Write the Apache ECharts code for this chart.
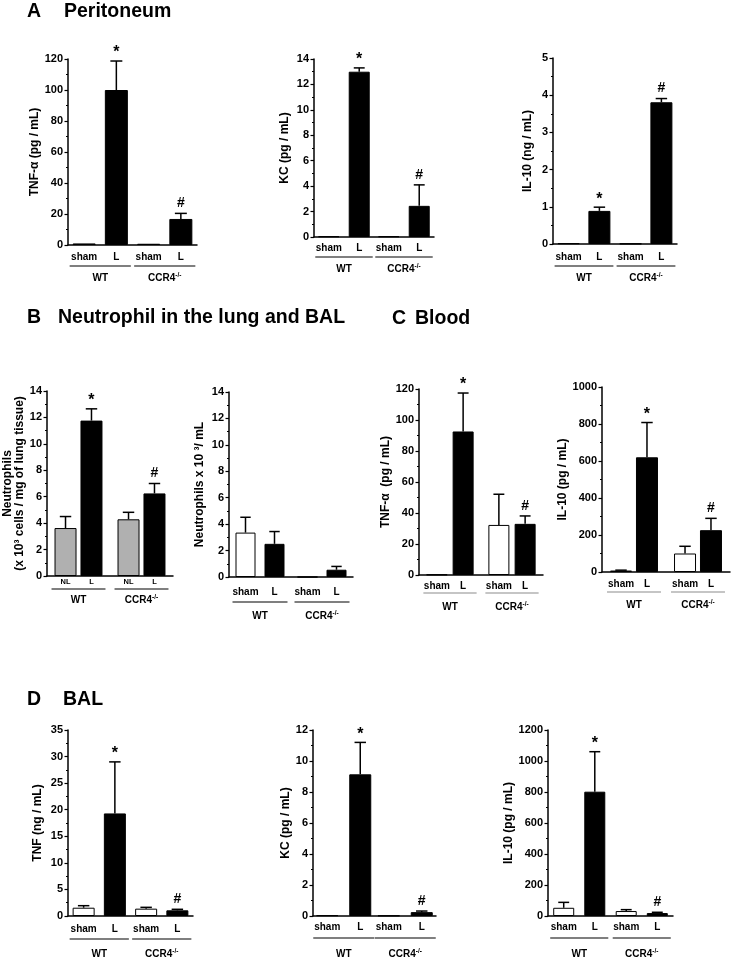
<!DOCTYPE html>
<html><head><meta charset="utf-8">
<script src="https://cdn.jsdelivr.net/npm/echarts@6/dist/echarts.min.js"></script>
<style>html,body{margin:0;padding:0;background:#fff}#c{width:732px;height:959px}</style>
</head><body><div id="c"></div>
<script>
// ---------- data ----------
const groups = ['WT', 'CCR4'];
// order in every array: [first bar WT, L WT, first bar CCR4-/-, L CCR4-/-]
const periTnfMean  = [1.0, 100.0, 0.8, 16.8];
const periTnfErr   = [1.0, 118.7, 0.8, 20.4];
const periKcMean   = [0.05, 13.0, 0.05, 2.45];
const periKcErr    = [0.05, 13.3, 0.05, 4.1];
const periIl10Mean = [0.02, 0.89, 0.01, 3.81];
const periIl10Err  = [0.02, 0.99, 0.01, 3.91];
const lungNeuMean  = [3.63, 11.76, 4.29, 6.25];
const lungNeuErr   = [4.5, 12.65, 4.82, 7.0];
const balNeuMean   = [3.36, 2.51, 0, 0.55];
const balNeuErr    = [4.52, 3.44, 0, 0.8];
const bloodTnfMean = [0.3, 92.6, 32.3, 33.0];
const bloodTnfErr  = [0.3, 117.4, 52.1, 38.1];
const bloodIl10Mean= [8, 620, 100, 226];
const bloodIl10Err = [10, 808, 139, 290];
const balTnfMean   = [1.56, 19.3, 1.38, 1.07];
const balTnfErr    = [1.94, 29.0, 1.63, 1.26];
const balKcMean    = [0.05, 9.14, 0.03, 0.25];
const balKcErr     = [0.05, 11.2, 0.03, 0.32];
const balIl10Mean  = [53, 802, 32, 19];
const balIl10Err   = [88, 1060, 41, 24];
const sigMarks     = ['', '*', '', '#'];
const noMarks      = ['', '', '', ''];
const shamL = ['sham', 'L'];
const nlL   = ['NL', 'L'];
const yMax  = [120, 14, 5, 14, 14, 120, 1000, 35, 12, 1200];
const yStep = [20, 2, 1, 2, 2, 20, 200, 5, 2, 200];
const yNames = ['TNF-α (pg / mL)', 'KC (pg / mL)', 'IL-10 (ng / mL)',
  'Neutrophils\n(x 10³ cells / mg of lung tissue)', 'Neutrophils x 10 ³/ mL',
  'TNF-α  (pg / mL)', 'IL-10 (pg / mL)', 'TNF (ng / mL)', 'KC (pg / mL)', 'IL-10 (pg / mL)'];
const panelLetters = ['A', 'B', 'C', 'D'];
const panelTitles = ['Peritoneum', 'Neutrophil in the lung and BAL', 'Blood', 'BAL'];

const charts = [
  {mean: periTnfMean, err: periTnfErr, marks: sigMarks, pair: shamL},
  {mean: periKcMean, err: periKcErr, marks: sigMarks, pair: shamL},
  {mean: periIl10Mean, err: periIl10Err, marks: sigMarks, pair: shamL},
  {mean: lungNeuMean, err: lungNeuErr, marks: sigMarks, pair: nlL},
  {mean: balNeuMean, err: balNeuErr, marks: noMarks, pair: shamL},
  {mean: bloodTnfMean, err: bloodTnfErr, marks: sigMarks, pair: shamL},
  {mean: bloodIl10Mean, err: bloodIl10Err, marks: sigMarks, pair: shamL},
  {mean: balTnfMean, err: balTnfErr, marks: sigMarks, pair: shamL},
  {mean: balKcMean, err: balKcErr, marks: sigMarks, pair: shamL},
  {mean: balIl10Mean, err: balIl10Err, marks: sigMarks, pair: shamL}
];

// ---------- layout / style ----------
const FONT = '"Liberation Sans", Arial, Helvetica, sans-serif';
const W = '#ffffff', K = '#000000', G = '#b0b0b0';
const layout = [
  {l:68,  t:59,  w:129, h:186, bw:23, gap:0.40, ng:26, pd:7,   lo:21, gm:27, fill:[K,K], lc:K, pf:10},
  {l:314, t:59,  w:120, h:178, bw:21, gap:0.45, ng:23, pd:6,   lo:20, gm:26, fill:[K,K], lc:K, pf:10},
  {l:553, t:58,  w:124, h:186, bw:22, gap:0.40, ng:19, pd:8,   lo:22, gm:28, fill:[K,K], lc:K, pf:10},
  {l:47,  t:391, w:126, h:185, bw:22, gap:0.18, ng:16, pd:1.5, lo:13, gm:18, fill:[G,K], lc:K, pf:7.5},
  {l:229, t:392, w:124, h:185, bw:20, gap:0.45, ng:23, pd:10,  lo:25, gm:33, fill:[W,K], lc:K, pf:10},
  {l:419, t:389, w:124, h:186, bw:21, gap:0.25, ng:26, pd:6,   lo:18, gm:26, fill:[W,K], lc:'#8c8c8c', pf:10},
  {l:602, t:387, w:128, h:185, bw:22, gap:0.18, ng:29, pd:7,   lo:20, gm:27, fill:[W,K], lc:'#8c8c8c', pf:10},
  {l:68,  t:730, w:125, h:186, bw:22, gap:0.42, ng:24, pd:8,   lo:23, gm:32, fill:[W,K], lc:K, pf:10},
  {l:313, t:730, w:123, h:186, bw:22, gap:0.50, ng:20, pd:6,   lo:22, gm:32, fill:[W,K], lc:K, pf:10},
  {l:548, t:730, w:125, h:186, bw:21, gap:0.48, ng:30, pd:6,   lo:22, gm:32, fill:[W,K], lc:K, pf:10}
];
const titlePos = [
  {lx:27, tx:64, top:2}, {lx:27, tx:58, top:308}, {lx:392, tx:415, top:309}, {lx:27, tx:63, top:690}
];

const option = {
  animation: false,
  backgroundColor: '#fff',
  textStyle: {fontFamily: FONT},
  title: [], grid: [], xAxis: [], yAxis: [], series: []
};

panelLetters.forEach((L, i) => {
  const p = titlePos[i];
  const ts = {fontSize: 19.5, fontWeight: 'bold', color: '#000', fontFamily: FONT};
  option.title.push({text: L, left: p.lx, top: p.top, padding: 0, textStyle: ts});
  option.title.push({text: panelTitles[i], left: p.tx, top: p.top, padding: 0, textStyle: ts});
});

charts.forEach((c, i) => {
  const s = layout[i];
  option.grid.push({left: s.l, top: s.t, width: s.w, height: s.h, containLabel: false, outerBoundsMode: 'none'});
  option.xAxis.push({
    type: 'category', gridIndex: i, data: groups,
    axisTick: {show: false},
    axisLine: {show: true, lineStyle: {color: '#000', width: 1.5}},
    axisLabel: {
      margin: s.gm, interval: 0,
      formatter: v => v === 'CCR4' ? '{a|CCR4}{s|-/-}' : '{a|' + v + '}',
      rich: {
        a: {fontSize: 10, fontWeight: 'bold', color: '#000', fontFamily: FONT, lineHeight: 12},
        s: {fontSize: 6.5, fontWeight: 'bold', color: '#000', fontFamily: FONT, lineHeight: 7, verticalAlign: 'top'}
      }
    }
  });
  option.yAxis.push({
    type: 'value', gridIndex: i, min: 0, max: yMax[i], interval: yStep[i],
    name: yNames[i], nameLocation: 'middle', nameGap: s.ng,
    nameTextStyle: {fontSize: 12, fontWeight: 'bold', color: '#000', fontFamily: FONT, lineHeight: 12},
    axisLine: {show: true, lineStyle: {color: '#000', width: 1.5}},
    axisTick: {show: true, length: 3.5, lineStyle: {color: '#000', width: 1.2}},
    minorTick: {show: true, splitNumber: 2, length: 2, lineStyle: {color: '#000', width: 1}},
    splitLine: {show: false},
    axisLabel: {margin: 5, fontSize: 11, fontWeight: 'bold', color: '#000', fontFamily: FONT,
      formatter: v => String(v)}
  });
  for (let k = 0; k < 2; k++) {
    const name = c.pair[k];
    option.series.push({
      type: 'bar', name: name, xAxisIndex: i, yAxisIndex: i,
      data: [c.mean[k], c.mean[2 + k]],
      barWidth: s.bw, barGap: Math.round(s.gap * 100) + '%',
      itemStyle: {color: s.fill[k], borderColor: '#000', borderWidth: 1},
      label: {show: true, position: 'bottom', distance: s.pd, formatter: () => name,
        fontSize: s.pf, fontWeight: 'bold', color: '#000', fontFamily: FONT},
      silent: true, z: 2
    });
  }
  // error bars + significance marks
  const errData = [];
  for (let g = 0; g < 2; g++) for (let k = 0; k < 2; k++) {
    const j = g * 2 + k;
    errData.push([g, k, c.mean[j], c.err[j]]);
  }
  const marks = c.marks;
  option.series.push({
    type: 'custom', xAxisIndex: i, yAxisIndex: i, data: errData,
    encode: {x: 0, y: 3}, silent: true, z: 5, clip: false,
    renderItem: (params, api) => {
      const g = api.value(0), k = api.value(1), m = api.value(2), t = api.value(3);
      const p0 = api.coord([g, m]);
      const p1 = api.coord([g, t]);
      const off = (s.bw + s.bw * s.gap) / 2 * (k === 0 ? -1 : 1);
      const x = p0[0] + off;
      const cw = s.bw * 0.26;
      const ch = [];
      if (t > m) {
        ch.push({type: 'line', shape: {x1: x, y1: p0[1], x2: x, y2: p1[1]}, style: {stroke: '#000', lineWidth: 1.5}});
        ch.push({type: 'line', shape: {x1: x - cw, y1: p1[1], x2: x + cw, y2: p1[1]}, style: {stroke: '#000', lineWidth: 1.5}});
      }
      const mk = marks[params.dataIndex];
      if (mk) {
        const star = mk === '*';
        ch.push({type: 'text', x: x, y: p1[1] - (star ? 0 : 3),
          style: {text: mk, fill: '#000', font: 'bold ' + (star ? 16 : 14) + 'px ' + FONT, align: 'center', verticalAlign: 'bottom'}});
      }
      return {type: 'group', children: ch};
    }
  });
  // group underline
  option.series.push({
    type: 'custom', xAxisIndex: i, yAxisIndex: i, data: [[0, 0], [1, 0]],
    encode: {x: 0, y: 1}, silent: true, z: 5, clip: false,
    renderItem: (params, api) => {
      const p = api.coord([api.value(0), 0]);
      const half = s.bw * (1 + s.gap / 2) + 3;
      const y = p[1] + s.lo;
      return {type: 'line', shape: {x1: p[0] - half, y1: y, x2: p[0] + half, y2: y},
        style: {stroke: s.lc, lineWidth: 1.2}};
    }
  });
});

const chart = echarts.init(document.getElementById('c'), null, {renderer: 'canvas'});
chart.setOption(option);
</script>
</body></html>
